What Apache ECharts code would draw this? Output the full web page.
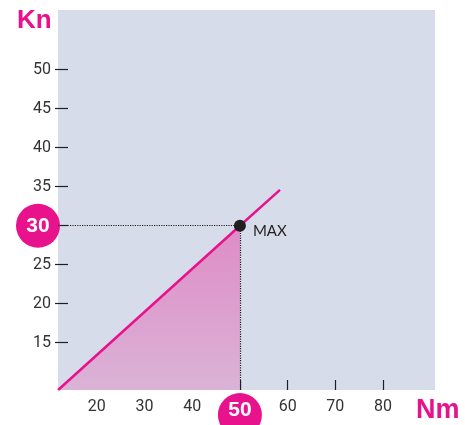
<!DOCTYPE html>
<html>
<head>
<meta charset="utf-8">
<script src="https://cdn.jsdelivr.net/npm/echarts@6/dist/echarts.min.js"></script>
<style>html,body{margin:0;padding:0;background:#fff}#c{width:465px;height:425px}</style>
</head>
<body>
<div id="c"></div>
<script>
// ---- data ----
const xTicks = [20, 30, 40, 50, 60, 70, 80];
const yTicks = [15, 20, 25, 30, 35, 40, 45, 50];
const lineX = [11.9, 50, 58.4];
const lineY = [8.94, 30, 34.6];
const maxPoint = [50, 30];
const maxLabel = 'MAX';
const xName = 'Nm';
const yName = 'Kn';
const xRange = [11.88, 90.88];
const yRange = [8.94, 57.65];

const MAGENTA = '#e8128c';
const TICK_FONT = 'Roboto';
const lineData = lineX.map((x, i) => [x, lineY[i]]);
const areaData = lineData.filter(p => p[0] <= maxPoint[0]);

const badgeStyle = {backgroundColor: MAGENTA, color: '#fff', fontWeight: 'bold', fontSize: 21, fontFamily: 'Liberation Sans',
                    width: 44, height: 44, lineHeight: 44, borderRadius: 22, align: 'center'};

const chart = echarts.init(document.getElementById('c'), null, {renderer: 'canvas'});
chart.setOption({
  animation: false,
  title: [
    {text: yName, left: 12, top: 3, textStyle: {color: MAGENTA, fontSize: 26, fontWeight: 'bold', fontFamily: 'Liberation Sans'}},
    {text: xName, left: 411, top: 392, textStyle: {color: MAGENTA, fontSize: 27, fontWeight: 'bold', fontFamily: 'Liberation Sans'}}
  ],
  grid: {left: 58, right: 30, top: 10, bottom: 35, show: true, backgroundColor: '#d7dcea', borderWidth: 0,
         outerBoundsMode: 'none', containLabel: false},
  xAxis: [{
    type: 'value', min: xRange[0], max: xRange[1],
    splitLine: {show: false},
    axisLine: {show: false},
    axisTick: {show: true, inside: true, length: 10, customValues: xTicks, lineStyle: {color: '#231f20', width: 1.2}},
    axisLabel: {
      customValues: xTicks.filter(v => v !== maxPoint[0]), margin: 4, hideOverlap: false,
      fontSize: 16, fontFamily: TICK_FONT, color: '#333', padding: [5, 0, 0, 0]
    }
  }, {
    type: 'value', min: xRange[0], max: xRange[1], position: 'bottom',
    splitLine: {show: false}, axisLine: {show: false}, axisTick: {show: false},
    axisLabel: {
      customValues: [maxPoint[0]], margin: 10, hideOverlap: false,
      formatter: v => '{b|' + v + '}',
      rich: {b: Object.assign({}, badgeStyle, {height: 30, lineHeight: 30, padding: [2, 0, 12, 0]})}
    }
  }],
  yAxis: {
    type: 'value', min: yRange[0], max: yRange[1], offset: -10,
    splitLine: {show: false},
    axisLine: {show: false},
    axisTick: {show: true, inside: false, length: 13, customValues: yTicks, lineStyle: {color: '#231f20', width: 1.2}},
    axisLabel: {
      customValues: yTicks, margin: 8, hideOverlap: false,
      formatter: v => v === maxPoint[1] ? '{b|' + v + '}' : '{n|' + v + '}',
      rich: {
        n: {fontSize: 16, fontFamily: TICK_FONT, color: '#333', padding: [0, 9, 0, 0]},
        b: badgeStyle
      }
    }
  },
  series: [
    {
      type: 'line', data: areaData, symbol: 'none', lineStyle: {width: 0},
      areaStyle: {origin: 'start', opacity: 1, color: new echarts.graphic.LinearGradient(0, 0, 0, 1, [
        {offset: 0, color: '#de8cc6'}, {offset: 1, color: '#dbb3d7'}])},
      z: 1
    },
    {
      type: 'line', data: lineData, symbol: 'none', lineStyle: {color: MAGENTA, width: 2.5}, z: 3
    },
    {
      type: 'scatter', data: [maxPoint], symbolSize: 12, itemStyle: {color: '#231f20', opacity: 1}, z: 5,
      label: {show: true, formatter: maxLabel, position: 'right', distance: 7, offset: [0, 5],
              fontSize: 15, fontFamily: 'Lato', color: '#231f20'},
      markLine: {
        silent: true, symbol: 'none', label: {show: false},
        lineStyle: {type: 'dotted', color: '#231f20', width: 1.2},
        data: [
          [{coord: [xRange[0], maxPoint[1]]}, {coord: maxPoint}],
          [{coord: maxPoint}, {coord: [maxPoint[0], yRange[0]]}]
        ]
      }
    }
  ]
});
</script>
</body>
</html>
